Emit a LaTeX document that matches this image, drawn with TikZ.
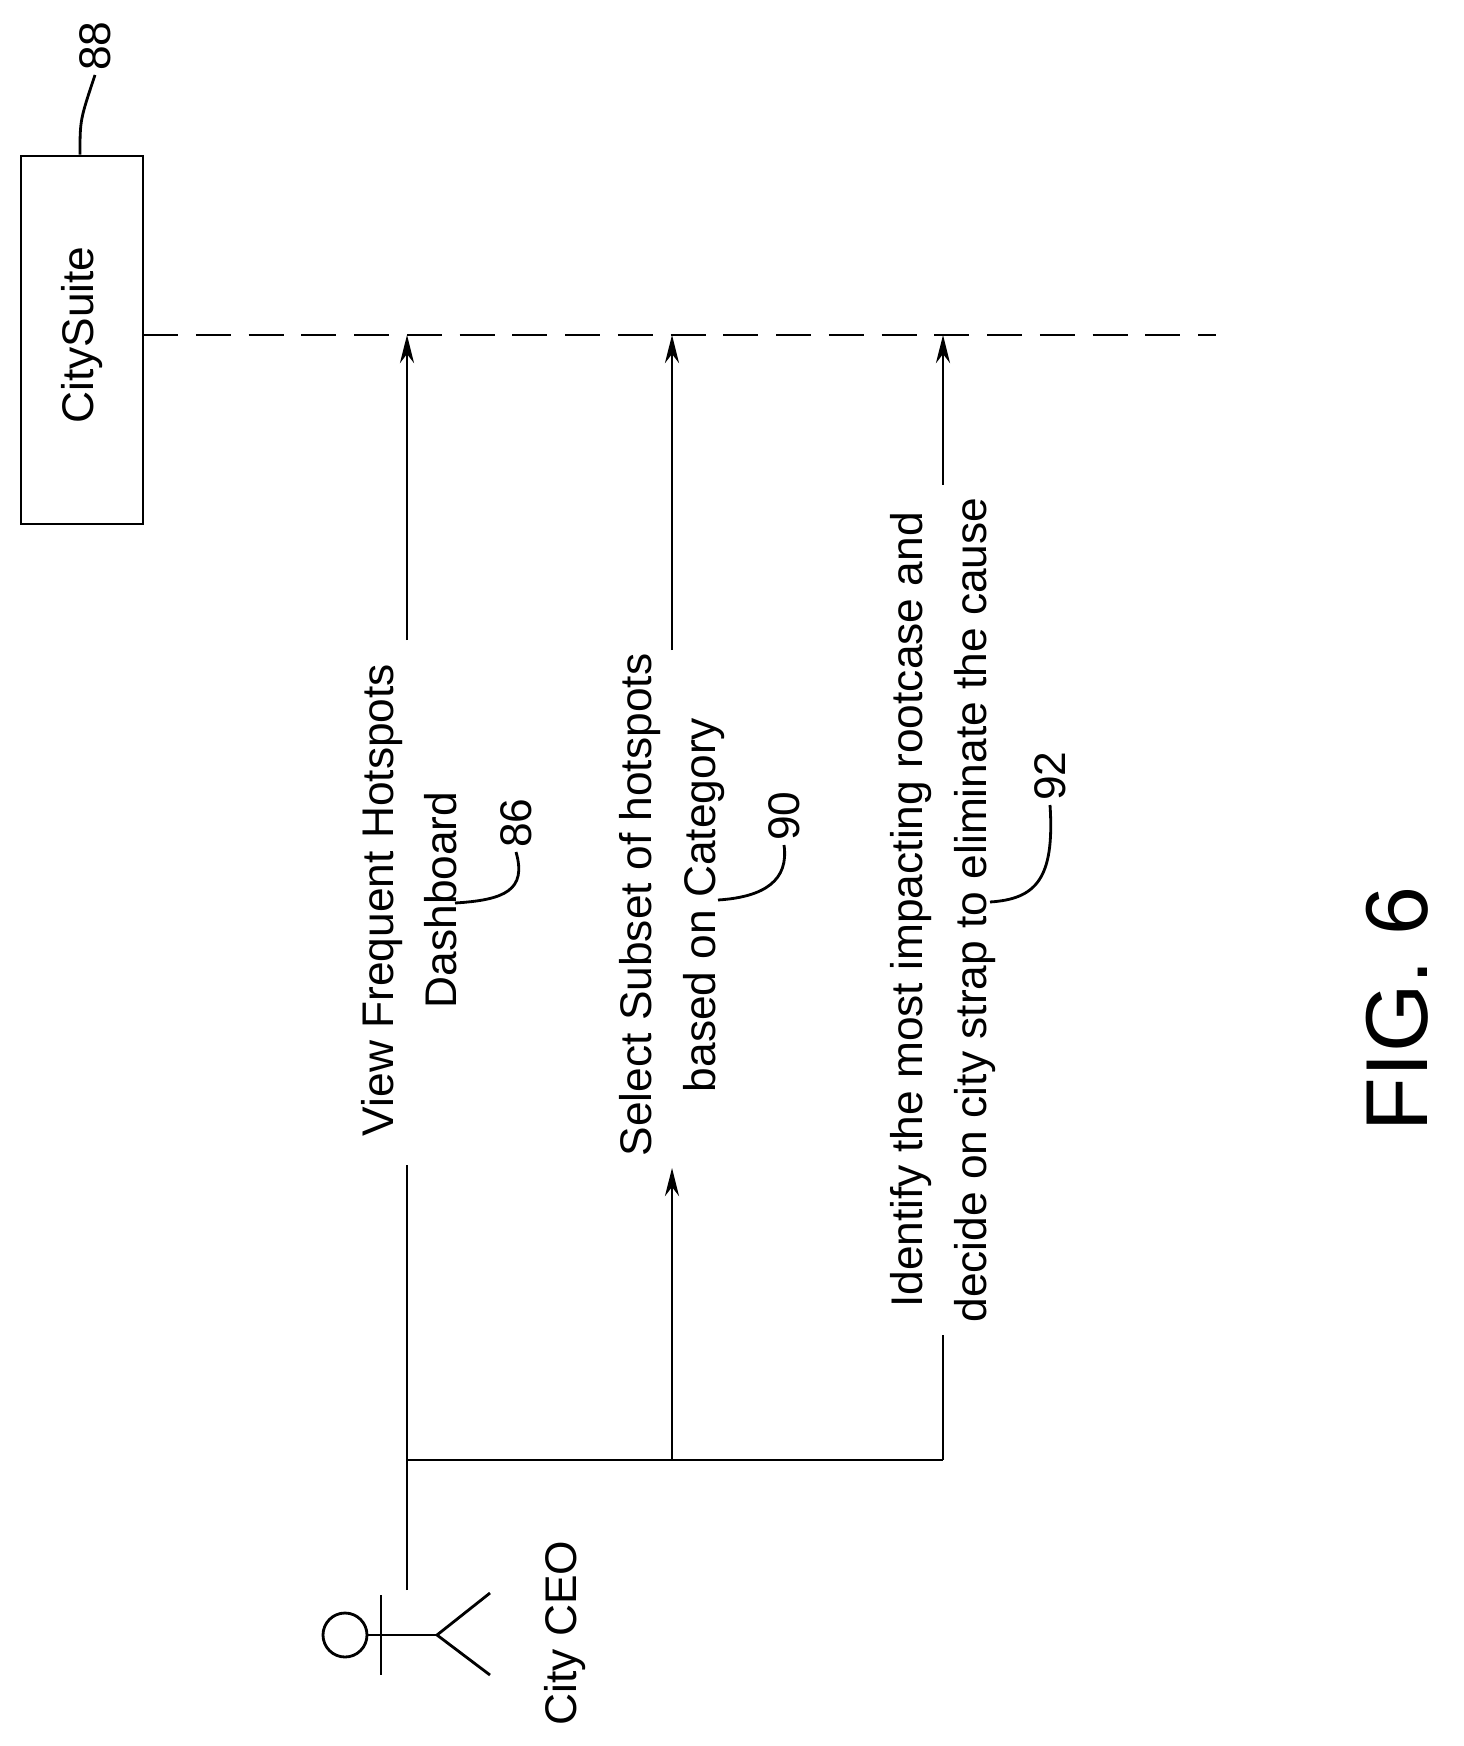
\documentclass[tikz,border=0pt]{standalone}
\usepackage{fontspec}
\setmainfont{Liberation Sans}
\usetikzlibrary{arrows.meta}
\begin{document}
\begin{tikzpicture}[x=0.01cm,y=-0.01cm,
  ln/.style={line width=0.8pt},
  arr/.style={ln,-{Stealth[length=8pt,width=4pt]}},
  txt/.style={rotate=90,font=\fontsize{12.6}{18}\selectfont,align=center,inner sep=0pt},
  num/.style={rotate=90,font=\fontsize{12.6}{15}\selectfont,inner sep=1pt}]
\useasboundingbox (0,0) rectangle (1463,1746);
% CitySuite box
\node[draw,ln,minimum width=122*0.01cm,minimum height=368*0.01cm,inner sep=0pt] (box) at (82,340) {};
\node[txt] (cs) at (82,335) {CitySuite};
\node[num,anchor=west] (n88) at (95,75) {88};
\draw[ln] (box.north) ++(-2,0) coordinate (b88) .. controls (80,120) .. (n88.west);
% lifeline
\coordinate (lend) at (1216,335);
\coordinate (lstart) at (143,335);
\draw[ln,dash pattern=on 10pt off 5pt] (lstart) -- (lend);
% bus & actor
\coordinate (a1b) at (407,1460);
\coordinate (a2b) at (672,1460);
\coordinate (a3b) at (943,1460);
\coordinate (act) at (407,1590);
\draw[ln] (act) -- (a1b) -- (a3b);
\node[draw,ln,circle,minimum size=44*0.01cm,inner sep=0pt] (head) at (345,1635) {};
\coordinate (hip) at (437,1635);
\draw[ln] (head.east) -- (hip);
\draw[ln] (381,1595) coordinate (n1) -- (381,1675) coordinate (n2);
\draw[ln] (490,1593) coordinate (l1) -- (hip) -- (490,1675) coordinate (l2);
\node[txt] (ceo) at (565,1633) {City CEO};
% arrow 1
\coordinate (a1t) at (407,335);
\coordinate (a1m1) at (407,1165);
\coordinate (a1m2) at (407,640);
\draw[ln] (a1b) -- (a1m1);
\draw[arr] (a1m2) -- (a1t);
\node[txt] (t1) at (409,900) {View Frequent Hotspots\\Dashboard};
\node[num,anchor=west] (n86) at (516,852) {86};
\draw[ln] (455,903) .. controls (505,900) and (527,890) .. (n86.west);
% arrow 2
\coordinate (a2t) at (672,335);
\coordinate (a2m1) at (672,1168);
\coordinate (a2m2) at (672,650);
\draw[arr] (a2b) -- (a2m1);
\draw[arr] (a2m2) -- (a2t);
\node[txt] (t2) at (672,905) {Select Subset of hotspots\\based on Category};
\node[num,anchor=west] (n90) at (784,845) {90};
\draw[ln] (718,900) .. controls (765,897) and (789,880) .. (n90.west);
% arrow 3
\coordinate (a3t) at (943,335);
\coordinate (a3m1) at (943,1335);
\coordinate (a3m2) at (943,485);
\draw[ln] (a3b) -- (a3m1);
\draw[arr] (a3m2) -- (a3t);
\node[txt] (t3) at (943,910) {Identify the most impacting rootcase and\\decide on city strap to eliminate the cause};
\node[num,anchor=west] (n92) at (1050,805) {92};
\draw[ln] (990,902) .. controls (1035,899) and (1055,880) .. (n92.west);
% figure label
\node[rotate=90,font=\fontsize{25}{30}\selectfont] (fig) at (1397,1009) {FIG. 6};
\end{tikzpicture}
\end{document}
